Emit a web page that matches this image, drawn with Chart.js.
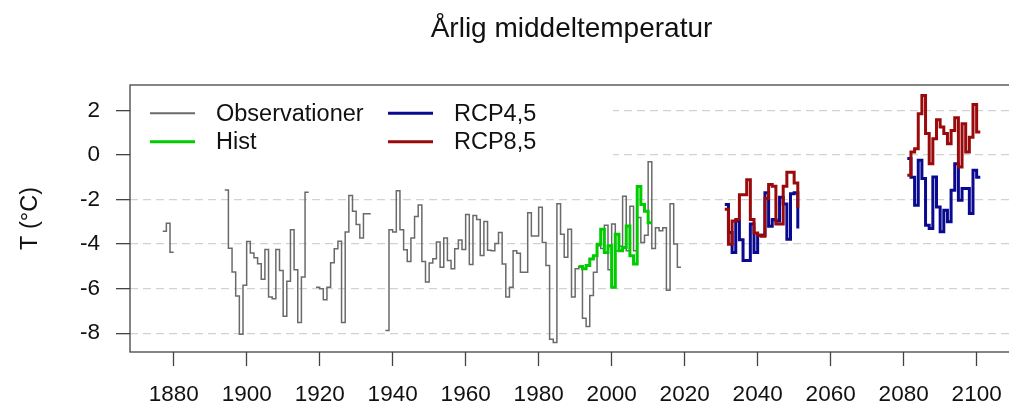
<!DOCTYPE html>
<html>
<head>
<meta charset="utf-8">
<script src="https://cdn.jsdelivr.net/npm/chart.js@4"></script>
<style>
  html, body { margin: 0; padding: 0; background: #fff; overflow: hidden; }
  #wrap { width: 1020px; height: 408px; }
</style>
</head>
<body>
<div id="wrap"><canvas id="chartTemp"></canvas></div>
<script>
// observed yearly mean, 1877-2019 (null = missing years)
const obsStart = 1877;
const obsValues = [
  -3.42, -3.06, -4.36, -4.36,
  null, null, null, null, null, null, null, null, null, null, null, null, null,
  -1.57, -4.18, -5.25, -6.33, -8.04, -5.85, -3.88, -4.40, -4.61, -4.88,
  -5.58, -4.24, -6.37, -6.45, -4.24, -5.18, -7.24, -5.66, -3.36, -5.15,
  -7.52, -5.48, -1.67, -1.67,
  null,
  -5.93, -6.00, -6.49, -5.93, -4.84, -4.21, -3.87, -7.52, -3.46, -1.82,
  -2.52, -3.12, -3.72, -2.64, -2.64, -2.64,
  null, null, null,
  -7.87, -3.36, -3.46, -1.60, -3.36, -4.25, -4.78, -3.72, -2.76, -2.24,
  -4.78, -5.70, -4.85, -4.66, -3.91, -5.04, -3.72, -4.73, -5.10, -4.21,
  -3.81, -4.24, -2.67, -4.91, -2.72, -2.90, -4.51, -2.99, -4.28, -4.30,
  -3.97, -3.48, -4.89, -6.37, -5.93, -4.30, -4.41, -5.26, -5.26, -2.59,
  -3.63, -3.63, -2.34, -3.93, -4.96, -8.27, -8.41, -2.19, -3.56, -4.59,
  -3.33, -6.37, -5.11, -5.00, -7.33, -7.70, -6.30, -5.26, -4.07, -4.20,
  -3.15, -5.15, -3.10, -4.30, -4.10, -1.85, -4.30, -2.30, -4.30, -2.80,
  -3.93, -3.60, -0.30, -4.20, -3.26, -3.40, -3.26, -6.07, -2.19, -3.99,
  -5.04, -5.04
];
// model, historical run 1991-2011
const histStart = 1991;
const histValues = [
  -5.00, -5.11, -4.96, -4.67, -4.52, -4.00, -3.33, -4.37, -4.07, -5.93,
  -3.56, -4.30, -4.15, -3.19, -4.52, -4.89, -1.41, -2.22, -2.52, -3.04,
  -3.04
];
// scenario periods
const nearStart = 2031;
const farStart = 2081;
const rcp45Near = [
  -2.22, -3.48, -4.37, -2.96, -3.80, -4.74, -4.74, -3.10, -4.37, -3.60,
  -3.60, -1.70, -3.20, -2.90, -2.96, -1.90, -2.20, -3.78, -1.74, -1.70,
  -3.30
];
const rcp45Far = [
  -0.16, -1.00, -2.25, -0.24, -1.06, -3.15, -3.30, -0.99, -2.33, -3.45,
  -2.48, -3.00, -1.58, -0.39, -2.03, -1.50, -1.50, -2.63, -0.69, -1.00,
  -1.00
];
const rcp85Near = [
  -2.44, -4.00, -2.96, -2.90, -1.78, -1.78, -1.11, -2.90, -3.50, -3.60,
  -3.65, -1.95, -1.33, -1.40, -3.10, -3.10, -1.40, -0.77, -0.77, -1.26,
  -2.37
];
const rcp85Far = [
  -0.91, 0.13, 0.28, 1.85, 2.67, 0.96, -0.39, 0.73, 1.58, 1.25,
  0.96, 0.50, 1.10, 1.67, -0.54, 1.40, 0.13, 0.80, 2.27, 1.03,
  1.03
];
const xTicks = [1880, 1900, 1920, 1940, 1960, 1980, 2000, 2020, 2040, 2060, 2080, 2100];
const yTicks = [-8, -6, -4, -2, 0, 2];

const fontFamily = "'Liberation Sans', Arial, Helvetica, sans-serif";

function toPoints(start, values) {
  return values.map((v, i) => ({ x: start + i, y: v }));
}
function twoPeriods(near, far) {
  return toPoints(nearStart, near).concat([{ x: 2065, y: null }], toPoints(farStart, far));
}

function stepDataset(label, data, color, width) {
  return {
    label: label,
    data: data,
    borderColor: color,
    borderWidth: width,
    pointRadius: 0,
    stepped: true,
    spanGaps: false,
    fill: false
  };
}

// first in list is drawn on top
const datasets = [
  stepDataset('RCP8,5', twoPeriods(rcp85Near, rcp85Far), '#9a0a0a', 3),
  stepDataset('RCP4,5', twoPeriods(rcp45Near, rcp45Far), '#0a0a90', 3),
  stepDataset('Hist', toPoints(histStart, histValues), '#00cc00', 3),
  stepDataset('Observationer', toPoints(obsStart, obsValues), '#6a6a6a', 1.5)
];

const legendBox = {
  id: 'legendBox',
  beforeDatasetsDraw(chart) {
    const ctx = chart.ctx;
    const area = chart.chartArea;
    const items = [
      { ds: 3, x: 150, y: 113.3, w: 2 },
      { ds: 2, x: 150, y: 141.7, w: 3 },
      { ds: 1, x: 388, y: 113.3, w: 3 },
      { ds: 0, x: 388, y: 141.7, w: 3 }
    ];
    ctx.save();
    ctx.fillStyle = '#fff';
    ctx.fillRect(area.left + 1, area.top + 1, 612 - area.left, 172 - area.top);
    ctx.font = '23.5px ' + fontFamily;
    ctx.textBaseline = 'middle';
    ctx.textAlign = 'left';
    items.forEach(it => {
      const ds = chart.data.datasets[it.ds];
      ctx.strokeStyle = ds.borderColor;
      ctx.lineWidth = it.w;
      ctx.beginPath();
      ctx.moveTo(it.x, it.y);
      ctx.lineTo(it.x + 45, it.y);
      ctx.stroke();
      ctx.fillStyle = '#111';
      ctx.fillText(ds.label, it.x + 66, it.y + 1);
    });
    ctx.restore();
  }
};

const plotBox = {
  id: 'plotBox',
  afterDatasetsDraw(chart) {
    const ctx = chart.ctx;
    const a = chart.chartArea;
    ctx.save();
    ctx.strokeStyle = '#444';
    ctx.lineWidth = 1.3;
    ctx.strokeRect(a.left, a.top, a.right - a.left, a.bottom - a.top);
    ctx.restore();
  }
};

const chartTemp = document.getElementById('chartTemp');
const chartjsTemp = new Chart(chartTemp, {
  type: 'line',
  data: { datasets: datasets },
  options: {
    responsive: true,
    maintainAspectRatio: false,
    animation: false,
    layout: { padding: { right: 7 } },
    plugins: {
      legend: { display: false },
      tooltip: { enabled: false },
      title: {
        display: true,
        text: 'Årlig middeltemperatur',
        fullSize: false,
        color: '#111',
        font: { family: fontFamily, size: 28, weight: 'normal' },
        padding: { top: 12, bottom: 39.4 }
      }
    },
    scales: {
      x: {
        type: 'linear',
        min: 1868.04,
        max: 2109.96,
        afterBuildTicks: s => { s.ticks = xTicks.map(v => ({ value: v })); },
        afterFit: s => { s.height = 56; },
        grid: { drawOnChartArea: false, tickLength: 14, tickColor: '#444', tickWidth: 1.3 },
        border: { display: false },
        ticks: {
          color: '#111',
          font: { family: fontFamily, size: 22.5 },
          padding: 15,
          maxRotation: 0,
          autoSkip: false,
          callback: v => String(v)
        }
      },
      y: {
        min: -8.84,
        max: 3.14,
        afterBuildTicks: s => { s.ticks = yTicks.map(v => ({ value: v })); },
        afterFit: s => { s.width = 130; },
        grid: {
          color: '#d2d2d2',
          lineWidth: 1.3,
          tickLength: 14,
          tickColor: '#444',
          tickWidth: 1.3,
          tickBorderDash: []
        },
        border: { display: false, dash: [8, 5] },
        title: {
          display: true,
          text: 'T (°C)',
          color: '#111',
          font: { family: fontFamily, size: 23.5 },
          padding: { top: 16, bottom: 0 }
        },
        ticks: {
          color: '#111',
          font: { family: fontFamily, size: 22.5 },
          padding: 16,
          autoSkip: false,
          callback: v => String(v)
        }
      }
    }
  },
  plugins: [legendBox, plotBox]
});
</script>
</body>
</html>
